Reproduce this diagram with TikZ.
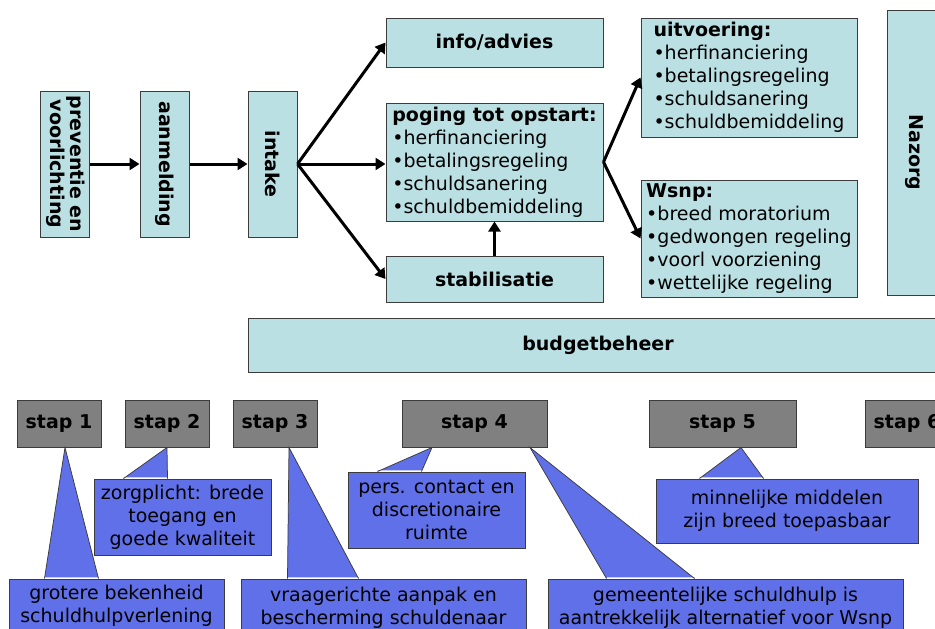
\documentclass[tikz,border=0pt]{standalone}
\usepackage{fontspec}
\setmainfont{DejaVu Sans}
\usepackage{graphicx}
\usetikzlibrary{arrows.meta}

\definecolor{flowfill}{RGB}{187,224,227}
\definecolor{boxline}{RGB}{60,60,60}
\definecolor{stapfill}{RGB}{128,128,128}
\definecolor{calloutfill}{RGB}{96,112,232}

\newcommand\bodyfont{\fontsize{19}{23}\selectfont}
\newcommand\titlefont{\fontsize{19}{23}\selectfont\bfseries}

\tikzset{every picture/.style={line width=0.75pt}}
\tikzset{
  flowbox/.style={draw=boxline, fill=flowfill, line width=1pt, inner sep=0pt, font=\titlefont},
  listbox/.style={flowbox, font=\bodyfont, align=left},
  stapbox/.style={draw=boxline, fill=stapfill, line width=1pt, inner sep=0pt, minimum width=84pt, minimum height=47pt, font=\titlefont},
  callbox/.style={draw=boxline, fill=calloutfill, line width=1pt, inner sep=0pt, font=\bodyfont, align=center},
  flowarrow/.style={line width=3pt, -{Triangle[length=10pt,width=12pt]}},
}

\begin{document}
\begin{tikzpicture}[x=1pt,y=1pt,yscale=-1,xscale=1]
\useasboundingbox (0,0) rectangle (935,629);
\clip (0,0) rectangle (935,629);
\fill[white] (0,0) rectangle (935,629);

% rotated boxes on the left
\node[flowbox, minimum width=49pt, minimum height=146pt] (prev) at (64.5,164) {\rotatebox{-90}{\fontsize{19}{20}\selectfont\begin{tabular}{@{}c@{}}preventie en\\voorlichting\end{tabular}}};
\node[flowbox, minimum width=49pt, minimum height=146pt] (aanm) at (164.5,164) {\rotatebox{-90}{aanmelding}};
\node[flowbox, minimum width=49pt, minimum height=146pt] (intake) at (272.5,164) {\rotatebox{-90}{intake}};

% middle column
\node[flowbox, minimum width=217pt, minimum height=49pt] (info) at (494.5,42.5) {info/advies};
\node[listbox, minimum width=217pt, minimum height=118pt] (poging) at (494.5,162) {\textbf{poging tot opstart:}\\•herfinanciering\\•betalingsregeling\\•schuldsanering\\•schuldbemiddeling};
\node[flowbox, minimum width=217pt, minimum height=46pt] (stab) at (494.5,279) {stabilisatie};

% right column
\node[listbox, minimum width=216pt, minimum height=119pt] (uitv) at (749,77.5) {\textbf{uitvoering:}\\•herfinanciering\\•betalingsregeling\\•schuldsanering\\•schuldbemiddeling};
\node[listbox, minimum width=216pt, minimum height=117pt] (wsnp) at (749,238.5) {\textbf{Wsnp:}\\•breed moratorium\\•gedwongen regeling\\•voorl voorziening\\•wettelijke regeling};
\node[flowbox, minimum width=54pt, minimum height=285pt] (nazorg) at (914,152.5) {\rotatebox{-90}{Nazorg}};

\node[flowbox, minimum width=700pt, minimum height=54pt] (budget) at (598,345) {budgetbeheer};

% arrows
\draw[flowarrow] (prev) -- (aanm);
\draw[flowarrow] (aanm) -- (intake);
\draw[flowarrow] (intake.east) -- (info.west);
\draw[flowarrow] (intake.east) -- (intake.east -| poging.west);
\draw[flowarrow] (intake.east) -- (stab.west);
\draw[flowarrow] (stab) -- (poging);
\draw[flowarrow] (poging.east) -- (uitv.west);
\draw[flowarrow] (poging.east) -- (wsnp.west);

% steps
\node[stapbox] (s1) at (59,423.5) {stap 1};
\node[stapbox] (s2) at (167,423.5) {stap 2};
\node[stapbox] (s3) at (275,423.5) {stap 3};
\node[stapbox, minimum width=145pt] (s4) at (474.5,423.5) {stap 4};
\node[stapbox, minimum width=147pt] (s5) at (722.5,423.5) {stap 5};
\node[stapbox] (s6) at (907,423.5) {stap 6};

% callouts
\node[callbox, minimum width=215pt, minimum height=54pt] (c1) at (116.5,606) {grotere bekenheid\\schuldhulpverlening};
\node[callbox, minimum width=177pt, minimum height=76pt] (c2) at (182.5,517) {zorgplicht: brede\\toegang en\\goede kwaliteit};
\node[callbox, minimum width=285pt, minimum height=58pt] (c3) at (383.5,608) {vraagerichte aanpak en\\bescherming schuldenaar};
\node[callbox, minimum width=177pt, minimum height=76pt] (c4) at (436.5,510) {pers. contact en\\discretionaire\\ruimte};
\node[callbox, minimum width=262pt, minimum height=64pt] (c5) at (787,511) {minnelijke middelen\\zijn breed toepasbaar};
\node[callbox, minimum width=355pt, minimum height=58pt] (c6) at (725.5,608) {gemeentelijke schuldhulp is\\aantrekkelijk alternatief voor Wsnp};

% callout pointers
\fill[calloutfill] ([xshift=36pt]c1.north west) -- ([xshift=6pt]s1.south) -- ([xshift=90pt]c1.north west) -- ([xshift=90pt,yshift=-1.2pt]c1.north west) -- ([xshift=36pt,yshift=-1.2pt]c1.north west) -- cycle;
\draw[boxline] ([xshift=36pt]c1.north west) -- ([xshift=6pt]s1.south) -- ([xshift=90pt]c1.north west);

\fill[calloutfill] ([xshift=30pt]c2.north west) -- (s2.south) -- ([xshift=74pt]c2.north west) -- ([xshift=74pt,yshift=-1.2pt]c2.north west) -- ([xshift=30pt,yshift=-1.2pt]c2.north west) -- cycle;
\draw[boxline] ([xshift=30pt]c2.north west) -- (s2.south) -- ([xshift=74pt]c2.north west);

\fill[calloutfill] ([xshift=47pt]c3.north west) -- ([xshift=14pt]s3.south) -- ([xshift=118pt]c3.north west) -- ([xshift=118pt,yshift=-1.2pt]c3.north west) -- ([xshift=47pt,yshift=-1.2pt]c3.north west) -- cycle;
\draw[boxline] ([xshift=47pt]c3.north west) -- ([xshift=14pt]s3.south) -- ([xshift=118pt]c3.north west);

\fill[calloutfill] ([xshift=30pt]c4.north west) -- ([xshift=-42.5pt]s4.south) -- ([xshift=74pt]c4.north west) -- ([xshift=74pt,yshift=-1.2pt]c4.north west) -- ([xshift=30pt,yshift=-1.2pt]c4.north west) -- cycle;
\draw[boxline] ([xshift=30pt]c4.north west) -- ([xshift=-42.5pt]s4.south) -- ([xshift=74pt]c4.north west);

\fill[calloutfill] ([xshift=44pt]c5.north west) -- ([xshift=18.5pt]s5.south) -- ([xshift=108pt]c5.north west) -- ([xshift=108pt,yshift=-1.2pt]c5.north west) -- ([xshift=44pt,yshift=-1.2pt]c5.north west) -- cycle;
\draw[boxline] ([xshift=44pt]c5.north west) -- ([xshift=18.5pt]s5.south) -- ([xshift=108pt]c5.north west);

\fill[calloutfill] ([xshift=59pt]c6.north west) -- ([xshift=55.5pt]s4.south) -- ([xshift=147pt]c6.north west) -- ([xshift=147pt,yshift=-1.2pt]c6.north west) -- ([xshift=59pt,yshift=-1.2pt]c6.north west) -- cycle;
\draw[boxline] ([xshift=59pt]c6.north west) -- ([xshift=55.5pt]s4.south) -- ([xshift=147pt]c6.north west);

\end{tikzpicture}
\end{document}
